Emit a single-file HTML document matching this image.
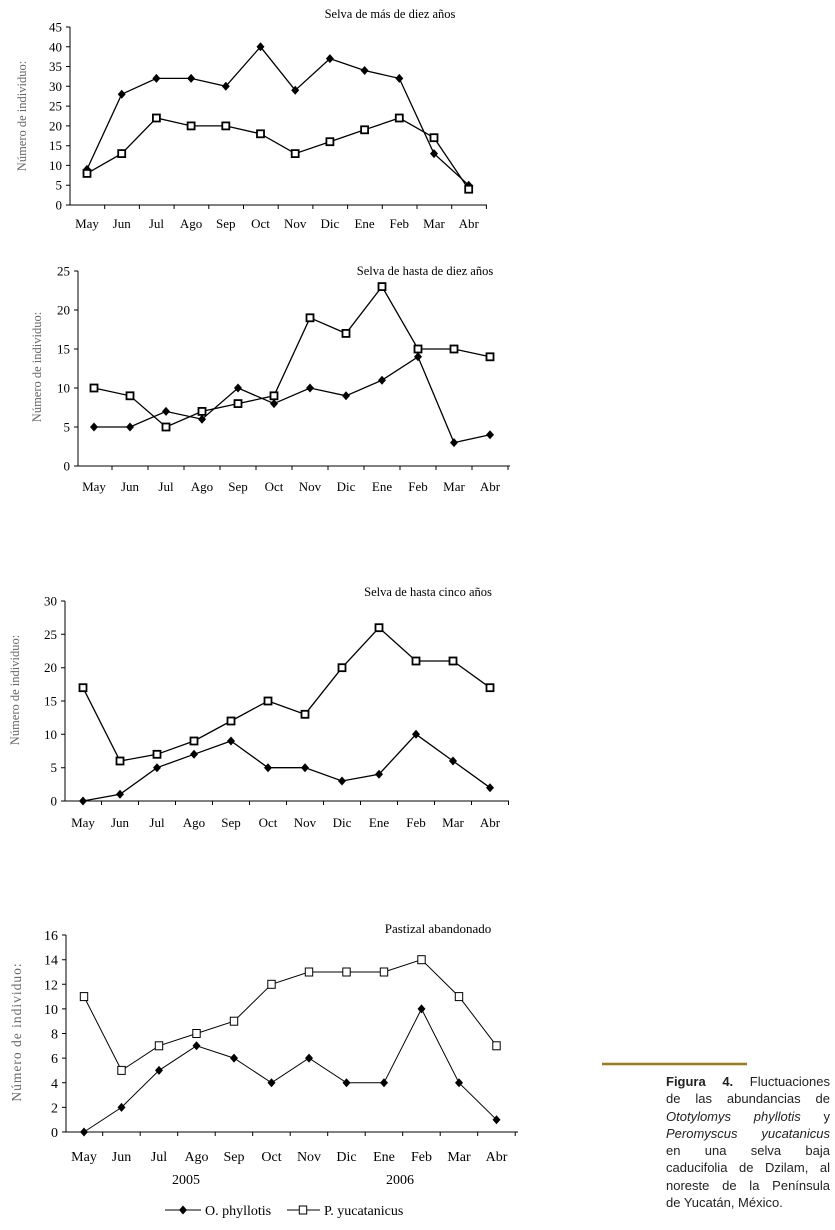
<!DOCTYPE html>
<html><head><meta charset="utf-8"><style>
body{margin:0;background:#fff;width:835px;height:1230px;overflow:hidden;position:relative}
svg{position:absolute;left:0;top:0}
.cap{position:absolute;left:666px;top:1073px;width:164px;font:13px/17.3px "Liberation Sans",sans-serif;color:#222}
.cap div{text-align:justify;text-align-last:justify;white-space:nowrap}
.cap div.l{text-align-last:left}
</style></head><body>
<svg width="835" height="1230" viewBox="0 0 835 1230" font-family="Liberation Serif, serif" font-size="13" fill="#000">
<defs>
<marker id="d" viewBox="-5 -5 10 10" markerWidth="10" markerHeight="10" markerUnits="userSpaceOnUse"><path d="M0 -4.5L4 0L0 4.5L-4 0Z" fill="#000"/></marker>
<marker id="s" viewBox="-5 -5 10 10" markerWidth="10" markerHeight="10" markerUnits="userSpaceOnUse"><rect x="-3.5" y="-3.5" width="7" height="7" fill="#fff" stroke="#000" stroke-width="1.8"/></marker>
<marker id="s2" viewBox="-5 -5 10 10" markerWidth="10" markerHeight="10" markerUnits="userSpaceOnUse"><rect x="-3.7" y="-4" width="7.4" height="8" fill="#fff" stroke="#000" stroke-width="1"/></marker>
</defs>
<g stroke="#000" stroke-width="1" fill="none">
<path d="M70 27V205H487M66 27H70M66 46.8H70M66 66.5H70M66 86.3H70M66 106.1H70M66 125.9H70M66 145.7H70M66 165.4H70M66 185.2H70M66 205H70M104.7 205v4M139.4 205v4M174.1 205v4M208.8 205v4M243.5 205v4M278.2 205v4M312.9 205v4M347.6 205v4M382.3 205v4M417 205v4M451.7 205v4M486.4 205v4"/>
<polyline stroke-width="1.3" marker-start="url(#d)" marker-mid="url(#d)" marker-end="url(#d)" points="87,169.4 121.7,94.2 156.4,78.4 191.1,78.4 225.8,86.3 260.5,46.8 295.2,90.3 329.9,58.6 364.6,70.5 399.3,78.4 434,153.6 468.7,185.2"/>
<polyline stroke-width="1.3" marker-start="url(#s)" marker-mid="url(#s)" marker-end="url(#s)" points="87,173.4 121.7,153.6 156.4,118 191.1,125.9 225.8,125.9 260.5,133.8 295.2,153.6 329.9,141.7 364.6,129.8 399.3,118 434,137.7 468.7,189.2"/>
<path d="M78 271V466H510M74 271H78M74 310H78M74 349H78M74 388H78M74 427H78M74 466H78M112 466v4M148 466v4M184 466v4M220 466v4M256 466v4M292 466v4M328 466v4M364 466v4M400 466v4M436 466v4M472 466v4M508 466v4"/>
<polyline stroke-width="1.3" marker-start="url(#d)" marker-mid="url(#d)" marker-end="url(#d)" points="94,427 130,427 166,411.4 202,419.2 238,388 274,403.6 310,388 346,395.8 382,380.2 418,356.8 454,442.6 490,434.8"/>
<polyline stroke-width="1.3" marker-start="url(#s)" marker-mid="url(#s)" marker-end="url(#s)" points="94,388 130,395.8 166,427 202,411.4 238,403.6 274,395.8 310,317.8 346,333.4 382,286.6 418,349 454,349 490,356.8"/>
<path d="M65 601V801H509M61 601H65M61 634.3H65M61 667.7H65M61 701H65M61 734.3H65M61 767.7H65M61 801H65M101.5 801v4M138.5 801v4M175.5 801v4M212.5 801v4M249.5 801v4M286.5 801v4M323.5 801v4M360.5 801v4M397.5 801v4M434.5 801v4M471.5 801v4M508.5 801v4"/>
<polyline stroke-width="1.3" marker-start="url(#d)" marker-mid="url(#d)" marker-end="url(#d)" points="83,801 120,794.3 157,767.7 194,754.3 231,741 268,767.7 305,767.7 342,781 379,774.3 416,734.3 453,761 490,787.7"/>
<polyline stroke-width="1.3" marker-start="url(#s)" marker-mid="url(#s)" marker-end="url(#s)" points="83,687.7 120,761 157,754.3 194,741 231,721 268,701 305,714.3 342,667.7 379,627.7 416,661 453,661 490,687.7"/>
<path d="M66 935V1132H518M62 935H66M62 959.7H66M62 984.3H66M62 1008.9H66M62 1033.5H66M62 1058.1H66M62 1082.8H66M62 1107.4H66M62 1132H66M102.7 1132v4M140.2 1132v4M177.7 1132v4M215.2 1132v4M252.7 1132v4M290.2 1132v4M327.7 1132v4M365.2 1132v4M402.7 1132v4M440.2 1132v4M477.7 1132v4M515.2 1132v4"/>
<polyline stroke-width="1" marker-start="url(#d)" marker-mid="url(#d)" marker-end="url(#d)" points="84,1132 121.5,1107.4 159,1070.4 196.5,1045.8 234,1058.1 271.5,1082.8 309,1058.1 346.5,1082.8 384,1082.8 421.5,1008.9 459,1082.8 496.5,1119.7"/>
<polyline stroke-width="1" marker-start="url(#s2)" marker-mid="url(#s2)" marker-end="url(#s2)" points="84,996.6 121.5,1070.4 159,1045.8 196.5,1033.5 234,1021.2 271.5,984.3 309,972 346.5,972 384,972 421.5,959.7 459,996.6 496.5,1045.8"/>
<polyline points="287,1210 303,1210 320,1210" marker-mid="url(#s2)"/>
<polyline points="165,1210 183,1210 201,1210" marker-mid="url(#d)"/>
</g>
<line x1="602" y1="1064" x2="747" y2="1064" stroke="#a0791c" stroke-width="2.5"/>
<text x="390" y="18" text-anchor="middle" font-size="12.5">Selva de más de diez años</text>
<g text-anchor="end"><text x="62" y="209.5">0</text><text x="62" y="189.7">5</text><text x="62" y="169.9">10</text><text x="62" y="150.2">15</text><text x="62" y="130.4">20</text><text x="62" y="110.6">25</text><text x="62" y="90.8">30</text><text x="62" y="71">35</text><text x="62" y="51.3">40</text><text x="62" y="31.5">45</text></g>
<g text-anchor="middle"><text x="87" y="228">May</text><text x="121.7" y="228">Jun</text><text x="156.4" y="228">Jul</text><text x="191.1" y="228">Ago</text><text x="225.8" y="228">Sep</text><text x="260.5" y="228">Oct</text><text x="295.2" y="228">Nov</text><text x="329.9" y="228">Dic</text><text x="364.6" y="228">Ene</text><text x="399.3" y="228">Feb</text><text x="434" y="228">Mar</text><text x="468.7" y="228">Abr</text></g>
<text transform="translate(26,116) rotate(-90)" text-anchor="middle" fill="#666" font-size="12.5">Número de individuo:</text>
<text x="425" y="275" text-anchor="middle" font-size="12.5">Selva de hasta de diez años</text>
<g text-anchor="end"><text x="70" y="470.5">0</text><text x="70" y="431.5">5</text><text x="70" y="392.5">10</text><text x="70" y="353.5">15</text><text x="70" y="314.5">20</text><text x="70" y="275.5">25</text></g>
<g text-anchor="middle"><text x="94" y="491">May</text><text x="130" y="491">Jun</text><text x="166" y="491">Jul</text><text x="202" y="491">Ago</text><text x="238" y="491">Sep</text><text x="274" y="491">Oct</text><text x="310" y="491">Nov</text><text x="346" y="491">Dic</text><text x="382" y="491">Ene</text><text x="418" y="491">Feb</text><text x="454" y="491">Mar</text><text x="490" y="491">Abr</text></g>
<text transform="translate(41,367) rotate(-90)" text-anchor="middle" fill="#666" font-size="12.5">Número de individuo:</text>
<text x="428" y="596" text-anchor="middle" font-size="12.5">Selva de hasta cinco años</text>
<g text-anchor="end"><text x="57" y="805.5">0</text><text x="57" y="772.2">5</text><text x="57" y="738.8">10</text><text x="57" y="705.5">15</text><text x="57" y="672.2">20</text><text x="57" y="638.8">25</text><text x="57" y="605.5">30</text></g>
<g text-anchor="middle"><text x="83" y="827">May</text><text x="120" y="827">Jun</text><text x="157" y="827">Jul</text><text x="194" y="827">Ago</text><text x="231" y="827">Sep</text><text x="268" y="827">Oct</text><text x="305" y="827">Nov</text><text x="342" y="827">Dic</text><text x="379" y="827">Ene</text><text x="416" y="827">Feb</text><text x="453" y="827">Mar</text><text x="490" y="827">Abr</text></g>
<text transform="translate(19,690) rotate(-90)" text-anchor="middle" fill="#666" font-size="12.5">Número de individuo:</text>
<text x="438" y="933" text-anchor="middle" font-size="13">Pastizal abandonado</text>
<g text-anchor="end" font-size="14"><text x="58" y="1137">0</text><text x="58" y="1112.4">2</text><text x="58" y="1087.8">4</text><text x="58" y="1063.1">6</text><text x="58" y="1038.5">8</text><text x="58" y="1013.9">10</text><text x="58" y="989.3">12</text><text x="58" y="964.7">14</text><text x="58" y="940">16</text></g>
<g text-anchor="middle" font-size="14"><text x="84" y="1161">May</text><text x="121.5" y="1161">Jun</text><text x="159" y="1161">Jul</text><text x="196.5" y="1161">Ago</text><text x="234" y="1161">Sep</text><text x="271.5" y="1161">Oct</text><text x="309" y="1161">Nov</text><text x="346.5" y="1161">Dic</text><text x="384" y="1161">Ene</text><text x="421.5" y="1161">Feb</text><text x="459" y="1161">Mar</text><text x="496.5" y="1161">Abr</text>
<text x="186" y="1184">2005</text><text x="400" y="1184">2006</text></g>
<text transform="translate(21,1032) rotate(-90)" text-anchor="middle" fill="#666" font-size="13.5" letter-spacing="1">Número de individuo:</text>
<text x="205" y="1215" font-size="14">O. phyllotis</text>
<text x="324" y="1215" font-size="14">P. yucatanicus</text>
</svg>
<div class="cap">
<div><b>Figura 4.</b> Fluctuaciones</div>
<div>de las abundancias de</div>
<div><i>Ototylomys phyllotis</i> y</div>
<div><i>Peromyscus yucatanicus</i></div>
<div>en una selva baja</div>
<div>caducifolia de Dzilam, al</div>
<div>noreste de la Península</div>
<div class="l">de Yucatán, México.</div>
</div>
</body></html>
